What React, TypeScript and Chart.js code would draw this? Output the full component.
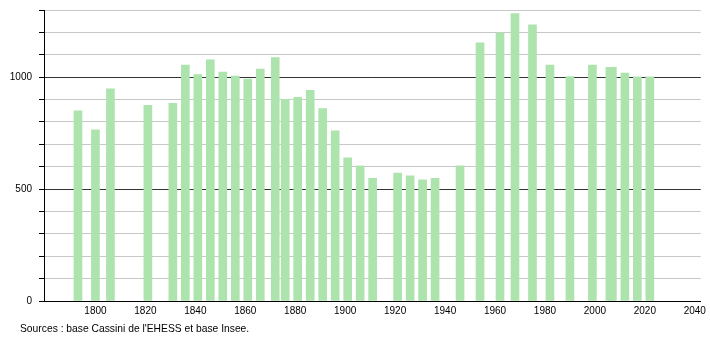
import React, { useEffect, useRef } from "react";
import { Chart, registerables } from "chart.js";

Chart.register(...registerables);

const years = [1793, 1800, 1806, 1821, 1831, 1836, 1841, 1846, 1851, 1856, 1861, 1866, 1872, 1876, 1881, 1886, 1891, 1896, 1901, 1906, 1911, 1921, 1926, 1931, 1936, 1946, 1954, 1962, 1968, 1975, 1982, 1990, 1999, 2006, 2007, 2012, 2017, 2022];
const population = [850, 765, 948, 874, 883, 1054, 1012, 1077, 1023, 1005, 991, 1036, 1088, 901, 910, 941, 860, 760, 640, 604, 548, 572, 559, 541, 548, 604, 1153, 1198, 1284, 1234, 1054, 1003, 1054, 1044, 1044, 1018, 1001, 1001];
const xTickYears = [1800, 1820, 1840, 1860, 1880, 1900, 1920, 1940, 1960, 1980, 2000, 2020, 2040];
const yLabelValues = [0, 500, 1000];
const sourceText = "Sources : base Cassini de l'EHESS et base Insee.";

export default function App() {
  const ref = useRef<HTMLCanvasElement | null>(null);
  useEffect(() => {
    document.body.style.margin = "0";
    const canvas = ref.current;
    if (!canvas) return;
    const font = { family: "'Liberation Sans', Arial, sans-serif", size: 10 };
    const chart = new Chart(canvas, {
      type: "bar",
      data: {
        datasets: [
          {
            data: years.map((y, i) => ({ x: y, y: population[i] })),
            backgroundColor: "#ade3ad",
            borderWidth: 0,
            barThickness: 8,
            grouped: false,
          } as any,
        ],
      },
      options: {
        responsive: false,
        animation: false,
        layout: { padding: { left: 0, right: 9, top: 10, bottom: 19 } },
        plugins: { legend: { display: false }, tooltip: { enabled: false } },
        scales: {
          x: {
            type: "linear",
            min: 1779.4,
            max: 2042.4,
            offset: false,
            grid: { display: false, drawTicks: false },
            border: { display: true, color: "#000", width: 1 },
            afterBuildTicks: (scale: any) => {
              scale.ticks = xTickYears.map((v) => ({ value: v }));
            },
            afterFit: (scale: any) => {
              scale.height = 20;
            },
            ticks: {
              autoSkip: false,
              maxRotation: 0,
              padding: 4,
              color: "#000",
              font,
              callback: (v: any) => String(v),
            },
          },
          y: {
            min: 0,
            max: 1300,
            afterFit: (scale: any) => {
              scale.width = 44;
            },
            grid: {
              color: (ctx: any) => (ctx.tick && (ctx.tick.value === 500 || ctx.tick.value === 1000) ? "#333" : "#c8c8c8"),
              tickColor: "#000",
              tickLength: 5,
              drawTicks: true,
            },
            border: { display: true, color: "#000", width: 1 },
            ticks: {
              stepSize: 100,
              autoSkip: false,
              padding: 7,
              color: "#000",
              font: { ...font, lineHeight: 0.5 },
              callback: (v: any) => (yLabelValues.includes(Number(v)) ? String(v) : ""),
            },
          },
        },
      },
    });
    return () => chart.destroy();
  }, []);
  return (
    <div style={{ position: "absolute", left: 0, top: 0, width: 710, height: 340 }}>
      <canvas ref={ref} width={710} height={340} />
      <div
        style={{
          position: "absolute",
          left: 20,
          top: 323,
          fontFamily: "'Liberation Sans', Arial, sans-serif",
          fontSize: 10.3,
          lineHeight: "12px",
          color: "#000",
          whiteSpace: "nowrap",
        }}
      >
        {sourceText}
      </div>
    </div>
  );
}
